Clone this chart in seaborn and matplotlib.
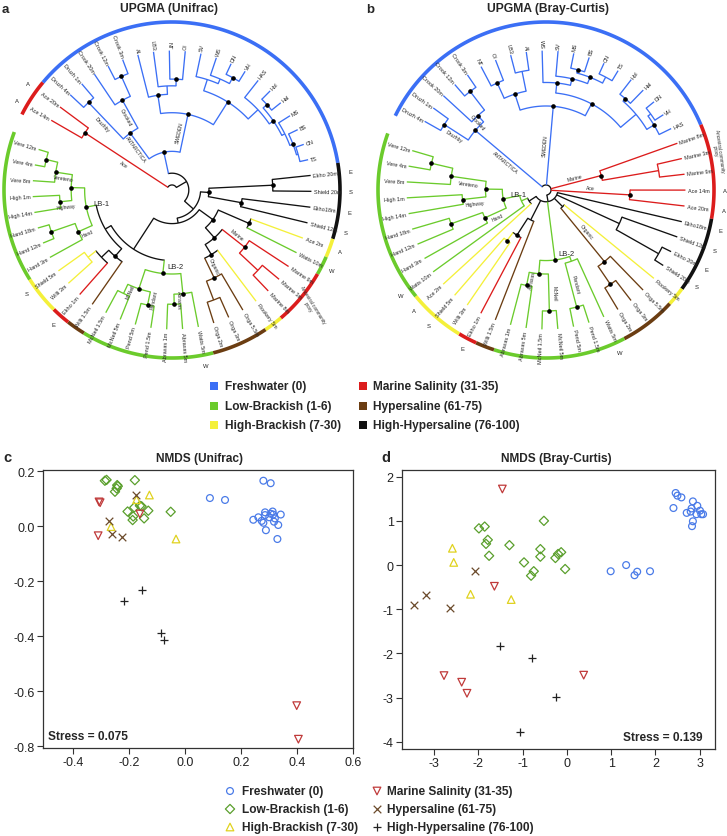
import numpy as np
import pandas as pd
import matplotlib
matplotlib.use("Agg")
import matplotlib.pyplot as plt
import seaborn as sns

sns.set_style("ticks")
plt.rcParams['font.family'] = ['Liberation Sans', 'DejaVu Sans']
plt.rcParams['axes.unicode_minus'] = False

W, H = 727, 837

# ---------------- categories ----------------
categories = ["Freshwater (0)", "Low-Brackish (1-6)", "High-Brackish (7-30)",
              "Marine Salinity (31-35)", "Hypersaline (61-75)", "High-Hypersaline (76-100)"]
cat_keys = ["F", "L", "H", "M", "S", "X"]
tree_colors = ["#3b6ff5", "#6bcb2c", "#f4f03a", "#dc1c1c", "#6b3d12", "#111111"]
nmds_colors = ["#4a7be8", "#5a9f2c", "#e0d21e", "#c03a3a", "#6b4a2b", "#222222"]
nmds_markers = ["o", "D", "^", "v", "x", "+"]

# ---------------- dendrogram leaves ----------------
leaf_names = ["Druzh 4m", "Druzh 1m", "Crook 20m", "Crook 12m", "Crook 3m",
              "AI", "LB3", "NT", "OI", "SV", "WS", "DN", "VH", "HAS", "Hol", "Hal",
              "MS", "BS", "CN", "TS",
              "Ace 14m", "Ace 20m", "Marine 9m", "Marine 3m", "Marine 8m", "Ekho 1m",
              "Ekho 20m", "Shield 20m", "Ekho18m", "Shield 12m",
              "Orga 5.5m", "Orga 3m", "Orga 2m", "Willi 1.5m",
              "Ace 2m", "Rookery 5m", "Willi 3m", "Shield 5m",
              "Watts 10m", "Watts 5m", "Abraxas 5m", "Abraxas 1m", "Pend 1.5m", "Pend 5m",
              "McNeil 5m", "McNeil 1.5m", "Hand 3m", "Hand 12m", "Hand 18m",
              "High 14m", "High 1m", "Vere 8m", "Vere 4m", "Vere 12m"]
leaf_groups = ["F", "F", "F", "F", "F",
               "F", "F", "F", "F", "F", "F", "F", "F", "F", "F", "F",
               "F", "F", "F", "F",
               "M", "M", "M", "M", "M", "M",
               "X", "X", "X", "X",
               "S", "S", "S", "S",
               "H", "H", "H", "H",
               "L", "L", "L", "L", "L", "L",
               "L", "L", "L", "L", "L",
               "L", "L", "L", "L", "L"]
leaf_cat = dict(zip(leaf_names, leaf_groups))

# Trees (Newick-like: value after ':' is the node radius, '*' marks a supported node)
TREE_A = ("((Ace 14m,Ace 20m)Ace:0.62*,"
          "((((Druzh 4m,Druzh 1m)Druzhby:0.72*,(Crook 20m,(Crook 12m,Crook 3m):0.74*)Crooked:0.61*)ANTARCTICA:0.42*,"
          "((AI,(LB3,(NT,OI):0.66*):0.62):0.57*,((SV,(WS,(DN,VH):0.76*):0.72):0.69,"
          "(HAS,((Hol,Hal):0.76*,(MS,(BS,(CN,TS):0.78):0.77*):0.75):0.73*):0.7):0.62*)SWEDEN:0.46*):0.23*,"
          "(((Ekho 20m,Shield 20m):0.6*,(Ekho18m,Shield 12m):0.42*):0.22*,"
          "(((Ace 2m,Watts 10m):0.5*,((Marine 9m,(Marine 3m,Marine 8m):0.7)Marine:0.55*,"
          "(Rookery 5m,(Orga 5.5m,(Orga 3m,Orga 2m):0.7)Organic:0.58*):0.45*):0.38*):0.3*,"
          "(((Watts 5m,(Abraxas 5m,Abraxas 1m)Abraxas:0.68*):0.62*,((Pend 1.5m,Pend 5m)Pendant:0.7*,"
          "(McNeil 5m,McNeil 1.5m)McNeil:0.68):0.62*)LB-2:0.5*,"
          "((Willi 1.5m,(Ekho 1m,(Willi 3m,Shield 5m):0.64):0.58):0.52*,"
          "((Hand 3m,(Hand 12m,Hand 18m):0.76*)Hand:0.61*,((High 14m,High 1m)Highway:0.67*,"
          "(Vere 8m,(Vere 4m,Vere 12m):0.77*)Vereteno:0.7*):0.6*)LB-1:0.52*):0.46):0.42):0.2):0.17):0.1):0.03")

TREE_B = ("(((Druzh 4m,Druzh 1m)Druzhby:0.72*,(Crook 20m,(Crook 12m,Crook 3m):0.74*)Crooked:0.6*)ANTARCTICA:0.55*,"
          "(((NT,OI):0.7*,(LB3,AI):0.72):0.6*,((WS,(SV,((MS,BS):0.74*,(CN,TS):0.76):0.72*):0.68*):0.64*,"
          "((Hol,Hal):0.72*,((DN,VH):0.77,HAS):0.75*):0.7):0.58*)SWEDEN:0.5*,"
          "(Marine 8m,(Marine 3m,Marine 9m):0.68)Marine:0.34*,"
          "(Ace 14m,Ace 20m)Ace:0.5*,"
          "(Ekho18m,(Shield 12m,(Ekho 20m,Shield 20m):0.77):0.48,"
          "(Rookery 5m,(Orga 5.5m,(Orga 3m,Orga 2m):0.68*)Organic:0.55*):0.14,"
          "((Watts 5m,(Pend 1.5m,Pend 5m)Pendant:0.72*):0.45,((McNeil 5m,McNeil 1.5m)McNeil:0.72*,"
          "(Abraxas 5m,Abraxas 1m)Abraxas:0.58*):0.5*)LB-2:0.42*,"
          "(Willi 1.5m,(Ekho 1m,(Willi 3m,Shield 5m):0.38*):0.32*):0.2,"
          "(Ace 2m,(Watts 10m,((Hand 3m,(Hand 12m,Hand 18m):0.6*)Hand:0.4*,((High 14m,High 1m)Highway:0.5*,"
          "(Vere 8m,(Vere 4m,Vere 12m):0.7*)Vereteno:0.57*):0.36*)LB-1:0.26*):0.16):0.12):0.07):0.03")

ring_marks_a = {"Ace 14m": "A", "Ace 20m": "A", "Ekho 20m": "E", "Shield 20m": "S", "Ekho18m": "E",
                "Shield 12m": "S", "Ace 2m": "A", "Watts 10m": "W", "Watts 5m": "W", "Ekho 1m": "E",
                "Shield 5m": "S"}
ring_marks_b = {"Ace 14m": "A", "Ace 20m": "A", "Ekho18m": "E", "Shield 12m": "S", "Ekho 20m": "E",
                "Shield 20m": "S", "Watts 5m": "W", "Ekho 1m": "E", "Shield 5m": "S", "Ace 2m": "A",
                "Watts 10m": "W"}
proxy_text = "Ancestral community\nproxy"

# ---------------- NMDS (Unifrac) ----------------
nmds_c = {
    "F": ([0.089, 0.143, 0.280, 0.306, 0.244, 0.262, 0.274, 0.280, 0.286, 0.286, 0.301, 0.306, 0.313, 0.315,
           0.321, 0.318, 0.333, 0.342, 0.289, 0.330],
          [0.102, 0.095, 0.165, 0.156, 0.023, 0.032, 0.019, 0.012, 0.050, 0.040, 0.032, 0.045, 0.053, 0.042,
           0.028, 0.016, 0.004, 0.042, -0.015, -0.047]),
    "L": ([-0.286, -0.280, -0.242, -0.244, -0.250, -0.179, -0.205, -0.181, -0.161, -0.155, -0.131, -0.185,
           -0.187, -0.146, -0.051, -0.240],
          [0.165, 0.168, 0.149, 0.137, 0.125, 0.167, 0.053, 0.068, 0.074, 0.072, 0.056, 0.035, 0.022, 0.028,
           0.052, 0.145]),
    "H": ([-0.127, -0.173, -0.264, -0.032], [0.113, 0.096, -0.002, -0.047]),
    "M": ([-0.307, -0.303, -0.310, -0.161, 0.399, 0.405], [0.088, 0.085, -0.035, 0.044, -0.653, -0.775]),
    "S": ([-0.176, -0.271, -0.262, -0.226], [0.113, 0.017, -0.029, -0.041]),
    "X": ([-0.152, -0.217, -0.086, -0.075], [-0.232, -0.272, -0.390, -0.415]),
}
# ---------------- NMDS (Bray-Curtis) ----------------
nmds_d = {
    "F": ([2.41, 2.46, 2.50, 2.59, 2.71, 2.80, 2.82, 2.85, 2.95, 2.93, 3.01, 3.04, 3.08, 2.85, 2.83,
           0.99, 1.34, 1.53, 1.59, 1.88],
          [1.29, 1.63, 1.57, 1.53, 1.18, 1.21, 1.28, 1.44, 1.34, 1.15, 1.23, 1.15, 1.15, 0.99, 0.88,
           -0.14, 0.00, -0.23, -0.15, -0.14]),
    "L": ([-1.99, -1.86, -1.79, -1.83, -1.76, -1.30, -0.52, -0.97, -0.60, -0.60, -0.75, -0.81, -0.26, -0.20,
           -0.13, -0.04],
          [0.83, 0.87, 0.57, 0.48, 0.21, 0.45, 1.00, 0.06, 0.36, 0.19, -0.14, -0.24, 0.16, 0.25, 0.29, -0.09]),
    "H": ([-2.59, -2.56, -2.18, -1.26], [0.38, 0.06, -0.66, -0.78]),
    "M": ([-1.46, -1.64, -2.78, -2.38, -2.26, 0.38], [1.72, -0.48, -2.50, -2.65, -2.90, -2.49]),
    "S": ([-2.07, -3.18, -3.46, -2.65], [-0.13, -0.67, -0.90, -0.97]),
    "X": ([-1.52, -0.80, -0.24, -1.06], [-1.83, -2.10, -2.98, -3.77]),
}
stress_c = "Stress = 0.075"
stress_d = "Stress = 0.139"

# =========================================================
fig = plt.figure(figsize=(W / 100, H / 100), dpi=100)


def px_axes(x0, y0, x1, y1):
    return fig.add_axes([x0 / W, 1 - y1 / H, (x1 - x0) / W, (y1 - y0) / H])


def parse_tree(s, tip_r):
    pos = 0

    def read(stop):
        nonlocal pos
        st = pos
        while pos < len(s) and s[pos] not in stop:
            pos += 1
        return s[st:pos]

    def node():
        nonlocal pos
        kids = []
        if s[pos] == '(':
            pos += 1
            kids.append(node())
            while s[pos] == ',':
                pos += 1
                kids.append(node())
            pos += 1
        name = read(':,)').strip()
        r = tip_r if not kids else 0.0
        dot = False
        if pos < len(s) and s[pos] == ':':
            pos += 1
            r = float(read(',)*'))
        if pos < len(s) and s[pos] == '*':
            dot = True
            pos += 1
        return {'kids': kids, 'name': name, 'r': r, 'dot': dot}

    return node()


def pol(r, a):
    return r * np.cos(np.radians(a)), r * np.sin(np.radians(a))


def col_of(n):
    if len(n['cats']) == 1:
        return tree_colors[cat_keys.index(next(iter(n['cats'])))]
    return "#111111"


def norm_rot(a):
    a = (a + 180) % 360 - 180
    if a > 90:
        a -= 180
    elif a < -90:
        a += 180
    return a


def dendro(ax, tree_str, theta0, marks, proxy_leaf, proxy_r, proxy_rot):
    step = 360 / 55
    root = parse_tree(tree_str, 0.83)
    leaves = []

    def walk(n):
        if not n['kids']:
            n['ang'] = theta0 - len(leaves) * step
            n['cats'] = {leaf_cat[n['name']]}
            leaves.append(n)
        else:
            for k in n['kids']:
                walk(k)
            n['ang'] = 0.5 * (n['kids'][0]['ang'] + n['kids'][-1]['ang'])
            n['cats'] = set().union(*[k['cats'] for k in n['kids']])

    walk(root)
    lw = 0.95

    def draw(n, pr):
        c = col_of(n)
        x0, y0 = pol(pr, n['ang'])
        x1, y1 = pol(n['r'], n['ang'])
        ax.plot([x0, x1], [y0, y1], color=c, lw=lw, solid_capstyle='butt')
        if n['kids']:
            t = np.radians(np.linspace(n['kids'][0]['ang'], n['kids'][-1]['ang'], 80))
            ax.plot(n['r'] * np.cos(t), n['r'] * np.sin(t), color=c, lw=lw)
            for k in n['kids']:
                draw(k, n['r'])
            if n['dot']:
                xd, yd = pol(n['r'], n['ang'])
                ax.plot(xd, yd, 'o', color='black', ms=2.3, zorder=5)
            if n['name']:
                if n['name'].startswith('LB'):
                    xl, yl = pol(n['r'] - 0.02, n['ang'])
                    ax.text(xl + 0.07, yl + 0.02, n['name'], fontsize=5.5, ha='center', va='center')
                else:
                    rm = 0.5 * (pr + n['r'])
                    xm, ym = pol(rm, n['ang'])
                    a = np.radians(n['ang'])
                    ox, oy = -np.sin(a) * 0.03, np.cos(a) * 0.03
                    ax.text(xm + ox, ym + oy, n['name'], fontsize=3.6, ha='center', va='center',
                            rotation=norm_rot(n['ang']), rotation_mode='anchor')
        else:
            a = n['ang']
            xt, yt = pol(n['r'] + 0.015, a)
            right = np.cos(np.radians(a)) >= 0
            ax.text(xt, yt, n['name'], fontsize=4.0, ha='left' if right else 'right', va='center',
                    rotation=norm_rot(a), rotation_mode='anchor')

    draw(root, root['r'])

    # outer ring
    i = 0
    while i < len(leaves):
        j = i
        ci = leaf_cat[leaves[i]['name']]
        while j + 1 < len(leaves) and leaf_cat[leaves[j + 1]['name']] == ci:
            j += 1
        t = np.radians(np.linspace(leaves[i]['ang'] + step / 2, leaves[j]['ang'] - step / 2, 80))
        ax.plot(np.cos(t), np.sin(t), color=tree_colors[cat_keys.index(ci)], lw=2.6, solid_capstyle='butt')
        i = j + 1
    for lf in leaves:
        if lf['name'] in marks:
            xm, ym = pol(1.065, lf['ang'])
            ax.text(xm, ym, marks[lf['name']], fontsize=4.2, ha='center', va='center')
        if lf['name'] == proxy_leaf:
            xm, ym = pol(proxy_r, lf['ang'])
            ax.text(xm, ym, proxy_text, fontsize=3.3, ha='center', va='center', rotation=proxy_rot,
                    linespacing=1.0, multialignment='center')


R = 168.0
# panel a
axA = px_axes(0, 0, 364, 380)
axA.set_xlim((0 - 172) / R, (364 - 172) / R)
axA.set_ylim((191 - 380) / R, (191 - 0) / R)
axA.set_axis_off()
dendro(axA, TREE_A, 150.0, ring_marks_a, "Marine 3m", 1.07, -58)
# panel b
axB = px_axes(364, 0, 727, 380)
axB.set_xlim((364 - 546) / R, (727 - 546) / R)
axB.set_ylim((191 - 380) / R, (191 - 0) / R)
axB.set_axis_off()
dendro(axB, TREE_B, 150.5, ring_marks_b, "Marine 3m", 1.045, -82)


# ---------------- NMDS panels ----------------
def nmds(ax, groups, xlim, ylim, xt, xtl, yt, ytl):
    for key in cat_keys:
        xs, ys = groups[key]
        df = pd.DataFrame({'x': xs, 'y': ys})
        i = cat_keys.index(key)
        m, c = nmds_markers[i], nmds_colors[i]
        if m in ('x', '+'):
            sns.scatterplot(data=df, x='x', y='y', marker=m, color=c, s=30, linewidth=0.9,
                            ax=ax, legend=False, zorder=3)
        else:
            sz = {'o': 24, 'D': 22, '^': 30, 'v': 30}[m]
            sns.scatterplot(data=df, x='x', y='y', marker=m, facecolor='none', edgecolor=c, s=sz,
                            linewidth=0.9, ax=ax, legend=False, zorder=3)
    ax.set_xlim(*xlim)
    ax.set_ylim(*ylim)
    ax.set_xticks(xt)
    ax.set_xticklabels(xtl)
    ax.set_yticks(yt)
    ax.set_yticklabels(ytl)
    ax.set_xlabel('')
    ax.set_ylabel('')
    for sp in ax.spines.values():
        sp.set_visible(True)
        sp.set_color('#333333')
        sp.set_linewidth(0.9)
    ax.tick_params(direction='out', length=4, width=0.8, color='#333333', labelsize=9,
                   labelcolor='#222222', pad=2)


axC = px_axes(43, 471, 353, 749)
nmds(axC, nmds_c, (-0.507, 0.6), (-0.807, 0.204),
     [-0.4, -0.2, 0.0, 0.2, 0.4, 0.6], ["-0.4", "-0.2", "0.0", "0.2", "0.4", "0.6"],
     [-0.8, -0.6, -0.4, -0.2, 0.0, 0.2], ["-0.8", "-0.6", "-0.4", "-0.2", "0.0", "0.2"])
axC.text(0.017, 0.02, stress_c, transform=axC.transAxes, fontsize=8.6, fontweight='bold',
         ha='left', va='bottom')

axD = px_axes(402, 471, 715, 750)
nmds(axD, nmds_d, (-3.73, 3.35), (-4.16, 2.15),
     [-3, -2, -1, 0, 1, 2, 3], ["-3", "-2", "-1", "0", "1", "2", "3"],
     [-4, -3, -2, -1, 0, 1, 2], ["-4", "-3", "-2", "-1", "0", "1", "2"])
axD.text(0.96, 0.02, stress_d, transform=axD.transAxes, fontsize=8.6, fontweight='bold',
         ha='right', va='bottom')

# ---------------- overlay: titles, panel letters, legends ----------------
ov = fig.add_axes([0, 0, 1, 1])
ov.set_xlim(0, W)
ov.set_ylim(H, 0)
ov.set_axis_off()

ov.text(169, 9, "UPGMA (Unifrac)", fontsize=8.7, fontweight='bold', ha='center', va='center')
ov.text(548, 9, "UPGMA (Bray-Curtis)", fontsize=8.7, fontweight='bold', ha='center', va='center')
ov.text(2, 13, "a", fontsize=9.5, fontweight='bold', ha='left', va='baseline')
ov.text(366, 13, "b", fontsize=9.5, fontweight='bold', ha='left', va='baseline')
ov.text(3, 458, "c", fontsize=10.5, fontweight='bold', ha='left', va='center')
ov.text(381, 458, "d", fontsize=10.5, fontweight='bold', ha='left', va='center')
ov.text(199, 459, "NMDS (Unifrac)", fontsize=8.6, fontweight='bold', ha='center', va='center')
ov.text(556, 459, "NMDS (Bray-Curtis)", fontsize=8.6, fontweight='bold', ha='center', va='center')

rows_top = [387, 407, 426]
rows_bot = [792, 810, 828]
for i, (cat, key) in enumerate(zip(categories, cat_keys)):
    col, row = divmod(i, 3)
    # dendrogram legend
    xs = [214, 363][col]
    xt = [225, 373][col]
    ov.scatter([xs], [rows_top[row]], marker='s', s=34, color=tree_colors[i], linewidths=0)
    ov.text(xt, rows_top[row], cat, fontsize=8.6, fontweight='bold', ha='left', va='center')
    # NMDS legend
    xm = [230, 377][col]
    xt2 = [242, 387][col]
    m = nmds_markers[i]
    if m in ('x', '+'):
        ov.scatter([xm], [rows_bot[row]], marker=m, s=30, color=nmds_colors[i], linewidths=0.9)
    else:
        sz = {'o': 24, 'D': 22, '^': 30, 'v': 30}[m]
        ov.scatter([xm], [rows_bot[row]], marker=m, s=sz, facecolors='none',
                   edgecolors=nmds_colors[i], linewidths=0.9)
    ov.text(xt2, rows_bot[row], cat, fontsize=8.6, fontweight='bold', ha='left', va='center')

fig.savefig("out.png", dpi=100)
